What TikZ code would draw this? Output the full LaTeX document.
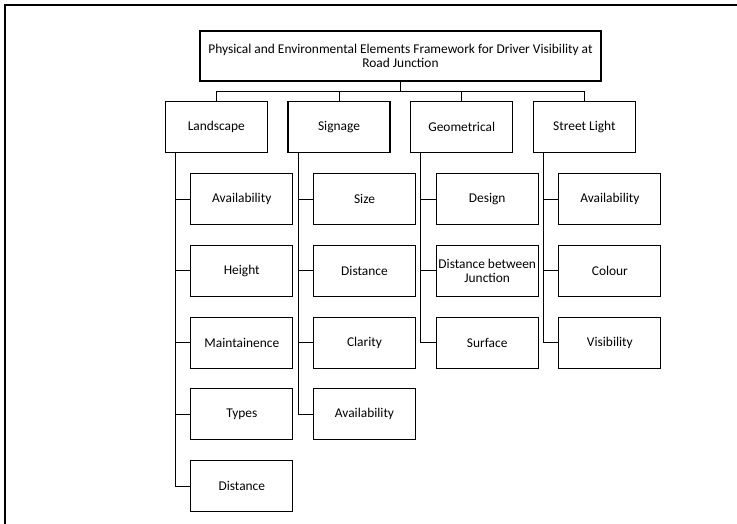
\documentclass[tikz,border=0pt]{standalone}
\usepackage{fontspec}
\setmainfont{Carlito}
\usetikzlibrary{calc}

\begin{document}
\begin{tikzpicture}[x=1pt, y=-1pt,
    elem/.style={draw, line width=0.9pt, minimum width=102pt, minimum height=51pt,
        align=center, inner sep=2pt, font=\fontsize{13.4}{14.5}\selectfont},
    group/.style={elem, line width=1.4pt},
    link/.style={line width=0.9pt}]
    \useasboundingbox (0,0) rectangle (737,524);

    % page frame, only the top and left edges show
    \draw[line width=2pt] (737,5.5) -- (5,5.5) -- (5,524);

    \node[group, minimum width=401pt, minimum height=50pt] (title) at (400.5,56)
        {Physical and Environmental Elements Framework for Driver Visibility at\\Road Junction};

    % second level, hung from the bus under the title
    \foreach \name/\txt [count=\i from 0] in {land/Landscape, sign/Signage, geom/Geometrical, light/Street Light}
    {
        \node[group] (\name) at (216.3+122.7*\i, 127) {\txt};
        \draw[link] (title.south) -- ++(0,10) -| (\name.north);
    }

    % elements of each group, on a trunk down the left side
    \foreach \name/\list in {land/{Availability,Height,Maintainence,Types,Distance},
            sign/{Size,Distance,Clarity,Availability},
            geom/{Design,{Distance between\\Junction},Surface},
            light/{Availability,Colour,Visibility}}
        \foreach \txt [count=\j from 0] in \list
        {
            \node[elem] (\name\j) at ($(\name.center)+(25.5,72+71.8*\j)$) {\txt};
            \draw[link] ([xshift=10.7pt]\name.south west) |- (\name\j.west);
        }

\end{tikzpicture}
\end{document}
